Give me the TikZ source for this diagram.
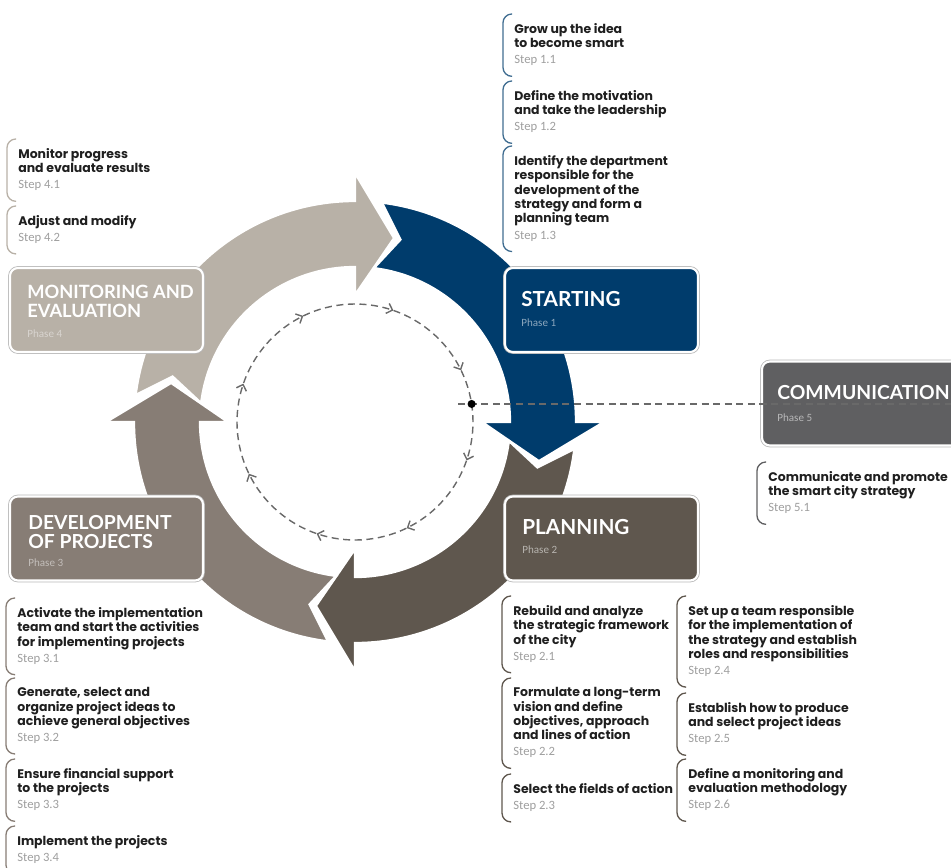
\documentclass[tikz,border=0pt]{standalone}
\usepackage{fontspec}
\setmainfont{Carlito}
\newfontfamily\stepfont{Poppins}
\newfontfamily\titlefont{Lato}
\usetikzlibrary{arrows.meta,decorations.markings}

\definecolor{startblue}{RGB}{0,60,108}
\definecolor{planbrown}{RGB}{95,87,78}
\definecolor{devtaupe}{RGB}{135,125,117}
\definecolor{monbeige}{RGB}{184,177,167}
\definecolor{commgray}{RGB}{95,95,97}
\definecolor{dashgray}{RGB}{105,105,105}

\tikzset{
  phasebox/.style={draw=white, line width=1.2pt, rounded corners=4.5pt,
    minimum width=3.86cm, minimum height=1.68cm, inner sep=0pt,
    preaction={draw=black!28, line width=2.1pt}},
  phasetitle/.style={anchor=north west, inner sep=0pt, align=left, text=white,
    font=\titlefont\bfseries\fontsize{11}{10.8}\selectfont},
  phaselbl/.style={anchor=north west, inner sep=0pt, font=\fontsize{6.3}{7}\selectfont},
  stepitem/.style={anchor=north west, inner sep=0pt, align=left, text=black!88,
    font=\stepfont\bfseries\fontsize{7.1}{8.2}\selectfont},
  ringarrow/.style={draw=white, line width=1.3pt, line join=miter},
  bracket/.style={line width=0.75pt, rounded corners=5pt},
  dashline/.style={dashgray, line width=0.8pt, dash pattern=on 4pt off 2.6pt},
  hubdot/.style={circle, fill=black, inner sep=0pt, minimum size=4.6pt}
}
\newcommand\stepno[1]{{\normalfont\fontsize{7.2}{8.2}\selectfont\color{black!38}#1}}
\newcommand\stepbr[2]{\draw[bracket,#2] ([shift={(-2,-9)}]#1.north west)
  -- ([shift={(-11,-9)}]#1.north west) -- ([shift={(-11,10)}]#1.south west)
  -- ([shift={(-2,10)}]#1.south west);}

\begin{document}
\begin{tikzpicture}[x=0.02cm, y=-0.02cm]
  \path[use as bounding box, clip] (0,0) rectangle (951,867);

  \begin{scope}[shift={(355,422)}]
    \foreach \b/\c in {-90/monbeige, 0/startblue, 90/planbrown, 180/devtaupe}
      \filldraw[ringarrow, fill=\c] ({\b-83}:221) arc[start angle=\b-83, end angle=\b, radius=221]
        -- (\b:249) -- ({\b+12}:188) -- (\b:127) -- (\b:155)
        arc[start angle=\b, end angle=\b-83, radius=155] -- ({\b-76}:188) -- cycle;
    \draw[dashline, postaction={decorate}, decoration={markings,
        mark=between positions 0.0625 and 1 step 0.125 with {\arrow{Straight Barb[length=3pt,width=6pt]}}}]
      (-138.5:118) arc[start angle=-138.5, end angle=221.5, radius=118];
    \coordinate (hubpt) at (-8.8:118);
  \end{scope}

  \node[phasebox, fill=monbeige] (mon) at (106.5,310) {};
  \node[phasebox, fill=startblue] (start) at (601.5,310) {};
  \node[phasebox, fill=commgray, minimum width=4cm] (comm) at (862,403.5) {};
  \node[phasebox, fill=planbrown] (plan) at (601.5,538.5) {};
  \node[phasebox, fill=devtaupe] (dev) at (106.5,538.5) {};

  \node[phasetitle, font=\titlefont\bfseries\fontsize{10.4}{10.8}\selectfont] (montitle) at (27,285) {MONITORING AND\\EVALUATION};
  \node[phaselbl, text=white!45!monbeige] (monph) at (27,329) {Phase 4};
  \node[phasetitle, font=\titlefont\bfseries\fontsize{11.8}{10.8}\selectfont] (starttitle) at (521,291) {STARTING};
  \node[phaselbl, text=white!55!startblue] (startph) at (521,318) {Phase 1};
  \node[phasetitle] (commtitle) at (777,385) {COMMUNICATION};
  \node[phaselbl, text=white!55!commgray] (commph) at (777,413) {Phase 5};
  \node[phasetitle, font=\titlefont\bfseries\fontsize{11.8}{10.8}\selectfont] (plantitle) at (522,519) {PLANNING};
  \node[phaselbl, text=white!55!planbrown] (planph) at (522,545) {Phase 2};
  \node[phasetitle] (devtitle) at (28,515) {DEVELOPMENT\\OF PROJECTS};
  \node[phaselbl, text=white!50!devtaupe] (devph) at (28,558) {Phase 3};

  \coordinate (dashstart) at (458,404);
  \coordinate (dashend) at (951,404);
  \draw[dashline, line width=0.6pt] (dashstart) -- (dashend);
  \node[hubdot] (hub) at (hubpt) {};

  \node[stepitem] (s11) at (514,23) {Grow up the idea\\to become smart\\[1pt]\stepno{Step 1.1}};
  \node[stepitem] (s12) at (514,90) {Define the motivation\\and take the leadership\\[1pt]\stepno{Step 1.2}};
  \node[stepitem] (s13) at (514,155) {Identify the department\\responsible for the\\development of the\\strategy and form a\\planning team\\[1pt]\stepno{Step 1.3}};

  \node[stepitem] (s41) at (18,148) {Monitor progress\\and evaluate results\\[1pt]\stepno{Step 4.1}};
  \node[stepitem] (s42) at (18,215) {Adjust and modify\\[1pt]\stepno{Step 4.2}};

  \node[stepitem] (s51) at (768,471) {Communicate and promote\\the smart city strategy\\[1pt]\stepno{Step 5.1}};

  \node[stepitem] (s31) at (17,607) {Activate the implementation\\team and start the activities\\for implementing projects\\[1pt]\stepno{Step 3.1}};
  \node[stepitem] (s32) at (17,687) {Generate, select and\\organize project ideas to\\achieve general objectives\\[1pt]\stepno{Step 3.2}};
  \node[stepitem] (s33) at (17,768) {Ensure financial support\\to the projects\\[1pt]\stepno{Step 3.3}};
  \node[stepitem] (s34) at (17,835) {Implement the projects\\[1pt]\stepno{Step 3.4}};

  \node[stepitem] (s21) at (513,605) {Rebuild and analyze\\the strategic framework\\of the city\\[1pt]\stepno{Step 2.1}};
  \node[stepitem] (s22) at (513,687) {Formulate a long-term\\vision and define\\objectives, approach\\and lines of action\\[1pt]\stepno{Step 2.2}};
  \node[stepitem] (s23) at (513,783) {Select the fields of action\\[1pt]\stepno{Step 2.3}};
  \node[stepitem] (s24) at (688,605) {Set up a team responsible\\for the implementation of\\the strategy and establish\\roles and responsibilities\\[1pt]\stepno{Step 2.4}};
  \node[stepitem] (s25) at (688,702) {Establish how to produce\\and select project ideas\\[1pt]\stepno{Step 2.5}};
  \node[stepitem] (s26) at (688,768) {Define a monitoring and\\evaluation methodology\\[1pt]\stepno{Step 2.6}};

  \foreach \s in {s11,s12,s13} \stepbr{\s}{startblue!75};
  \foreach \s in {s41,s42} \stepbr{\s}{monbeige};
  \stepbr{s51}{commgray}
  \foreach \s in {s31,s32,s33,s34} \stepbr{\s}{devtaupe};
  \foreach \s in {s21,s22,s23,s24,s25,s26} \stepbr{\s}{planbrown};
\end{tikzpicture}
\end{document}
